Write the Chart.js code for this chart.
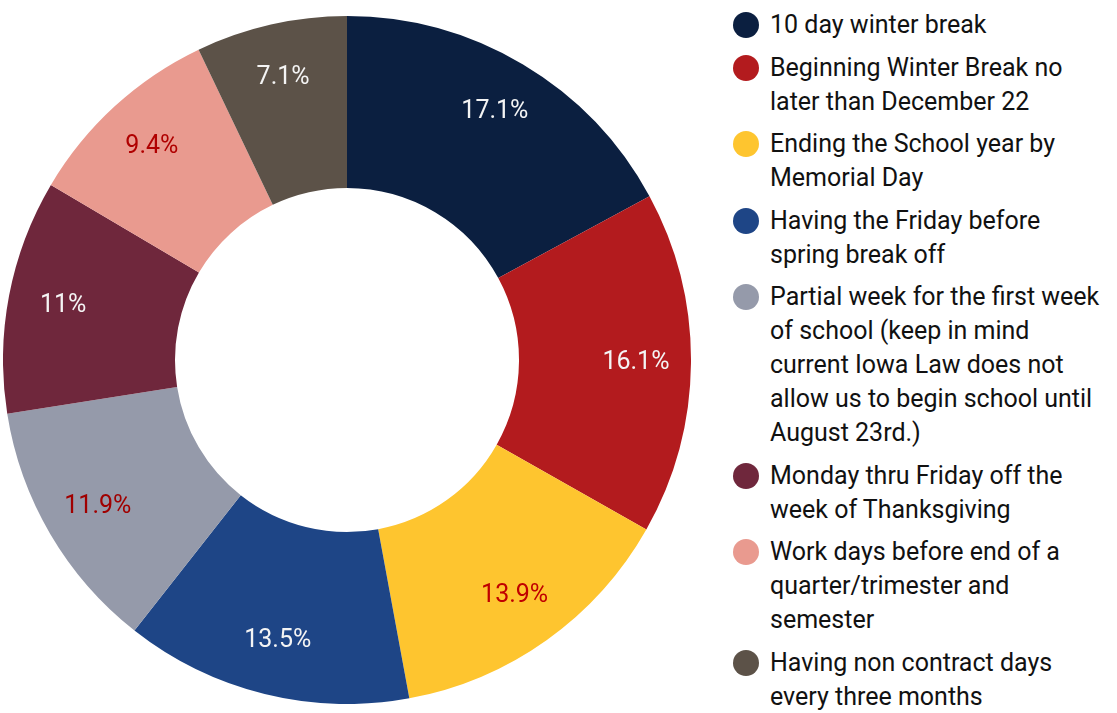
<!DOCTYPE html>
<html>
<head>
<meta charset="utf-8">
<script src="https://cdn.jsdelivr.net/npm/chart.js@4"></script>
<style>
    body { margin: 0; background: #fff; font-family: Roboto, sans-serif; }
    #wrap { position: absolute; left: 3px; top: 16px; width: 688px; height: 688px; }
    #legend { position: absolute; left: 733px; top: 8px; width: 384px; }
    .item { display: flex; align-items: flex-start; margin-bottom: 8.5px; }
    .dot { flex: 0 0 26px; width: 26px; height: 26px; border-radius: 50%; margin-top: 4px; margin-right: 11px; }
    .txt { font-size: 25px; line-height: 34px; color: #111; width: 342px; }
</style>
</head>
<body>
<div id="wrap"><canvas id="donut"></canvas></div>
<div id="legend"></div>
<script>
// Data
const categories = [
    "10 day winter break",
    "Beginning Winter Break no later than December 22",
    "Ending the School year by Memorial Day",
    "Having the Friday before spring break off",
    "Partial week for the first week of school (keep in mind current Iowa Law does not allow us to begin school until August 23rd.)",
    "Monday thru Friday off the week of Thanksgiving",
    "Work days before end of a quarter/trimester and semester",
    "Having non contract days every three months"
];
const percentValues = [17.1, 16.1, 13.9, 13.5, 11.9, 11, 9.4, 7.1];
const sliceColors = ["#0b1f40", "#b31b1e", "#fec52f", "#1e4586", "#959aaa", "#6f273c", "#e99a8f", "#5c5248"];
const labelColors = ["#f4f4f4", "#f4f4f4", "#c00000", "#f4f4f4", "#a00000", "#f4f4f4", "#b00000", "#f4f4f4"];

// Draw the percent text on each slice, a bit beyond the ring's middle
const sliceLabels = {
    id: "sliceLabels",
    afterDatasetsDraw(chart) {
        const c = chart.ctx;
        const arcs = chart.getDatasetMeta(0).data;
        c.save();
        c.font = "25px Roboto";
        c.textAlign = "center";
        c.textBaseline = "middle";
        arcs.forEach((arc, i) => {
            const p = arc.getProps(["x", "y", "startAngle", "endAngle", "innerRadius", "outerRadius"]);
            const mid = (p.startAngle + p.endAngle) / 2;
            const r = p.innerRadius + (p.outerRadius - p.innerRadius) * 0.68;
            c.fillStyle = labelColors[i];
            c.fillText(percentValues[i] + "%", p.x + Math.cos(mid) * r, p.y + Math.sin(mid) * r);
        });
        c.restore();
    }
};

new Chart(document.getElementById("donut").getContext("2d"), {
    type: "doughnut",
    data: {
        labels: categories,
        datasets: [{
            data: percentValues,
            backgroundColor: sliceColors,
            borderWidth: 0
        }]
    },
    options: {
        responsive: true,
        maintainAspectRatio: false,
        animation: false,
        cutout: "50%",
        layout: { padding: 0 },
        plugins: {
            legend: { display: false },
            tooltip: { enabled: false }
        }
    },
    plugins: [sliceLabels]
});

// HTML legend so the long names can wrap
document.getElementById("legend").innerHTML = categories.map((name, i) =>
    `<div class="item"><span class="dot" style="background:${sliceColors[i]}"></span><span class="txt">${name}</span></div>`
).join("");
</script>
</body>
</html>
